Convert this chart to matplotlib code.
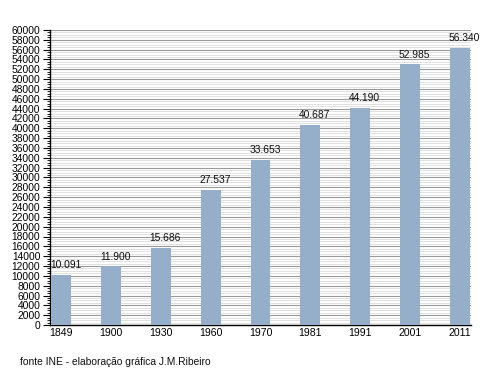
import matplotlib.pyplot as plt
from matplotlib.ticker import MultipleLocator

plt.rcParams["font.family"] = ["Liberation Sans", "DejaVu Sans"]

# data
years = ["1849", "1900", "1930", "1960", "1970", "1981", "1991", "2001", "2011"]
population = [10091, 11900, 15686, 27537, 33653, 40687, 44190, 52985, 56340]
value_labels = ["10.091", "11.900", "15.686", "27.537", "33.653",
                "40.687", "44.190", "52.985", "56.340"]

fig = plt.figure(figsize=(5.0, 3.73), dpi=100)
# axes placed to match the reference pixel box (x 50-471, y 30-325)
ax = fig.add_axes([50 / 500, 1 - 325 / 373, 421 / 500, 295 / 373])

x = range(len(years))
ax.bar(x, population, width=0.4, color="#95AFCB", zorder=3)

# value labels sit slightly right of the bar centre, as in the original
for xi, val, lab in zip(x, population, value_labels):
    ax.text(xi + 0.09, val + 1000, lab, ha="center", va="bottom", fontsize=7.4,
            color="#111111", zorder=4)

ax.set_xlim(-0.22, len(years) - 1 + 0.22)
ax.set_ylim(0, 60000)
ax.set_xticks(list(x))
ax.set_xticklabels(years)
ax.yaxis.set_major_locator(MultipleLocator(2000))
ax.yaxis.set_minor_locator(MultipleLocator(500))

ax.grid(axis="y", which="major", color="#9a9a9a", linewidth=0.8, zorder=0)
ax.grid(axis="y", which="minor", color="#dcdcdc", linewidth=0.6, zorder=0)

for side in ["top", "right"]:
    ax.spines[side].set_visible(False)
ax.spines["left"].set_linewidth(1.0)
ax.spines["bottom"].set_linewidth(1.0)

ax.tick_params(axis="y", which="major", length=5, width=0.8, labelsize=7.4, pad=2)
ax.tick_params(axis="y", which="minor", length=2.5, width=0.6)
ax.tick_params(axis="x", length=0, labelsize=7.6, pad=2.5)

fig.text(20 / 500, 1 - 362 / 373, "fonte INE - elaboração gráfica J.M.Ribeiro",
         fontsize=7.4, va="center", ha="left", color="#111111")

fig.savefig("out.png", dpi=100)
